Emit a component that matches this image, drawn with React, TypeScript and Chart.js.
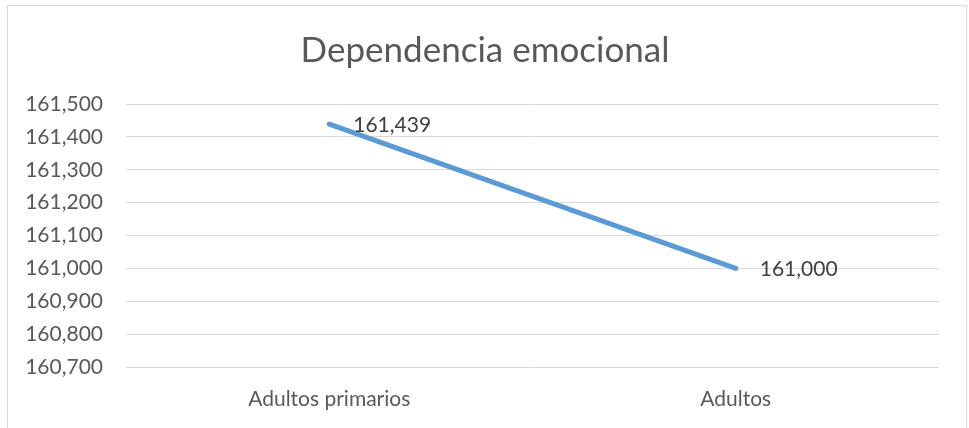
import React, { useEffect, useRef } from "react";
import { Chart, registerables } from "chart.js";

Chart.register(...registerables);

const titleText = "Dependencia emocional";
const categories = ["Adultos primarios", "Adultos"];
const values = [161439, 161000];
const yMin = 160700;
const yMax = 161500;
const yStep = 100;

const FONT = "Lato, 'Liberation Sans', sans-serif";
const fmt = (v: number) => v.toLocaleString("en-US");

const labelPlugin = {
  id: "pointLabels",
  afterDatasetsDraw(chart: any) {
    const ctx = chart.ctx;
    const meta = chart.getDatasetMeta(0);
    ctx.save();
    ctx.font = `21px ${FONT}`;
    ctx.fillStyle = "#404040";
    ctx.textAlign = "left";
    ctx.textBaseline = "middle";
    meta.data.forEach((pt: any, i: number) => {
      ctx.fillText(fmt(values[i]), pt.x + 24, pt.y + 1);
    });
    ctx.restore();
  },
};

const titlePlugin = {
  id: "centerTitle",
  afterDraw(chart: any) {
    const ctx = chart.ctx;
    ctx.save();
    ctx.font = `35px ${FONT}`;
    ctx.fillStyle = "#595959";
    ctx.textAlign = "center";
    ctx.textBaseline = "alphabetic";
    ctx.fillText(titleText, chart.width / 2 - 2, 56);
    ctx.restore();
  },
};

export default function App() {
  const ref = useRef<HTMLCanvasElement | null>(null);
  useEffect(() => {
    if (!ref.current) return;
    const chart = new Chart(ref.current, {
      type: "line",
      data: {
        labels: categories,
        datasets: [
          {
            data: values,
            borderColor: "#5b9bd5",
            backgroundColor: "#5b9bd5",
            borderWidth: 5,
            borderCapStyle: "round",
            pointRadius: 0,
            tension: 0,
          },
        ],
      },
      options: {
        responsive: false,
        animation: false,
        layout: { padding: { left: 0, right: 27, top: 98, bottom: 0 } },
        plugins: {
          legend: { display: false },
          tooltip: { enabled: false },
          title: { display: false },
        },
        scales: {
          x: {
            offset: true,
            grid: { display: false },
            border: { display: false },
            ticks: {
              color: "#595959",
              font: { family: FONT, size: 21 },
              padding: 12,
              maxRotation: 0,
            },
            afterFit: (s: any) => {
              s.height = 67;
            },
          },
          y: {
            min: yMin,
            max: yMax,
            border: { display: false },
            grid: { color: "#d9d9d9", lineWidth: 1, drawTicks: false },
            ticks: {
              stepSize: yStep,
              color: "#595959",
              font: { family: FONT, size: 21 },
              padding: 23,
              callback: (v: any) => fmt(Number(v)),
            },
            afterFit: (s: any) => {
              s.width = 118;
            },
          },
        },
      },
      plugins: [labelPlugin, titlePlugin],
    });
    return () => chart.destroy();
  }, []);

  return (
    <div
      style={{
        position: "fixed",
        left: 7,
        top: 5,
        width: 960,
        height: 440,
        boxSizing: "border-box",
        border: "1px solid #d9d9d9",
        background: "#fff",
      }}
    >
      <canvas ref={ref} width={958} height={428} style={{ display: "block", width: 958, height: 428 }} />
    </div>
  );
}
